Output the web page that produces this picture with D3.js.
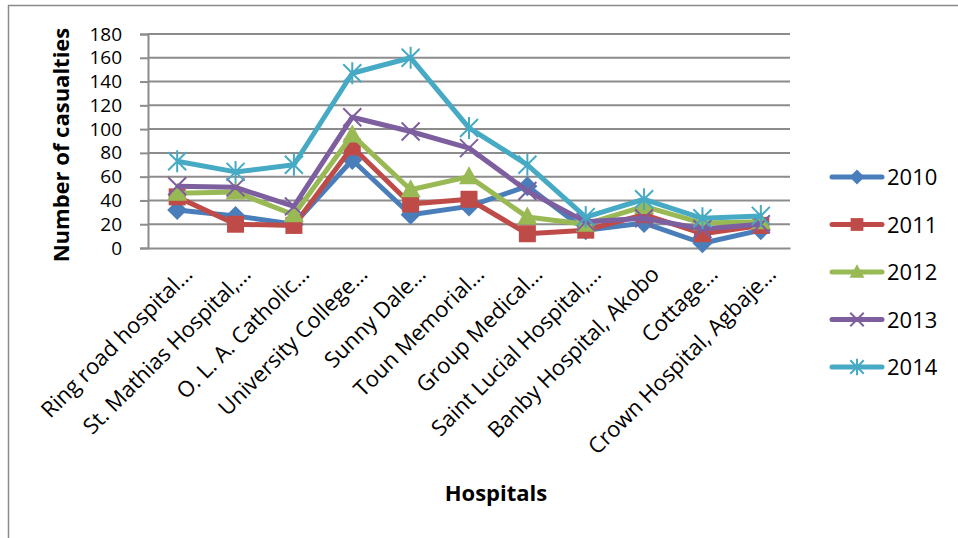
<!DOCTYPE html>
<html>
<head>
<meta charset="utf-8">
<script src="https://cdn.jsdelivr.net/npm/d3@7"></script>
<style>
  body { margin: 0; background: #fff; }
  svg { display: block; font-family: "Open Sans", sans-serif; }
</style>
</head>
<body>
<svg id="chart" width="958" height="538"></svg>
<script>
const hospitals = [
  "Ring road hospital…", "St. Mathias Hospital,…", "O. L. A. Catholic…",
  "University College…", "Sunny Dale…", "Toun Memorial…", "Group Medical…",
  "Saint Lucial Hospital,…", "Banby Hospital, Akobo", "Cottage…",
  "Crown Hospital, Agbaje…"
];
const years = ["2010", "2011", "2012", "2013", "2014"];
const y2010 = [32, 27, 20, 74, 28, 35, 52, 15, 21, 4, 15];
const y2011 = [43, 20, 19, 85, 37, 41, 12, 15, 28, 12, 19];
const y2012 = [46, 47, 28, 95, 49, 60, 26, 20, 35, 21, 22];
const y2013 = [52, 51, 35, 110, 98, 84, 48, 22, 25, 16, 20];
const y2014 = [73, 64, 70, 147, 160, 101, 70, 26, 41, 25, 27];
const yTicks = [0, 20, 40, 60, 80, 100, 120, 140, 160, 180];

const seriesValues = [y2010, y2011, y2012, y2013, y2014];
const colors = ["#4a7ebb", "#be4b48", "#98b954", "#7d5fa0", "#46aac5"];
const markers = ["diamond", "square", "triangle", "cross", "star"];

const svg = d3.select("#chart");
const margin = { top: 34, left: 148, right: 790, bottom: 248 };

// outer frame (left + top only visible)
svg.append("path")
  .attr("d", "M8.5,538 V5.5 H958")
  .attr("fill", "none").attr("stroke", "#8a8a8a").attr("stroke-width", 1.5);

const x = d3.scaleBand().domain(hospitals).range([margin.left, margin.right]);
const y = d3.scaleLinear().domain([0, 180]).range([margin.bottom, margin.top]);

// gridlines
svg.append("g").selectAll("line").data(yTicks.filter(d => d > 0)).join("line")
  .attr("x1", margin.left).attr("x2", margin.right)
  .attr("y1", d => y(d)).attr("y2", d => y(d))
  .attr("stroke", "#8c8c8c").attr("stroke-width", 2);

// y axis
const yAxis = svg.append("g")
  .attr("transform", `translate(${margin.left},0)`)
  .call(d3.axisLeft(y).tickValues(yTicks).tickSize(8).tickPadding(18));
yAxis.select(".domain").attr("stroke", "#8c8c8c").attr("stroke-width", 2);
yAxis.selectAll(".tick line").attr("stroke", "#8c8c8c").attr("stroke-width", 2);
yAxis.selectAll("text").attr("font-size", 19).attr("fill", "#000")
  .attr("font-family", "Open Sans, sans-serif");

// x axis
const xAxis = svg.append("g")
  .attr("transform", `translate(0,${margin.bottom})`)
  .call(d3.axisBottom(x).tickSize(0).tickPadding(0));
xAxis.select(".domain").attr("stroke", "#8c8c8c").attr("stroke-width", 2);
xAxis.selectAll("text")
  .attr("font-size", 22).attr("fill", "#000")
  .attr("font-family", "Open Sans, sans-serif")
  .attr("text-anchor", "end")
  .attr("dy", null).attr("y", 0)
  .attr("transform", "translate(3,14) rotate(-45)")
  .attr("dominant-baseline", "hanging");

// axis titles
svg.append("text")
  .attr("transform", `translate(69,${(margin.top + margin.bottom) / 2 + 4}) rotate(-90)`)
  .attr("text-anchor", "middle")
  .attr("font-size", 22).attr("font-weight", "bold")
  .text("Number of casualties");
svg.append("text")
  .attr("x", 496).attr("y", 501)
  .attr("text-anchor", "middle")
  .attr("font-size", 22).attr("font-weight", "bold")
  .text("Hospitals");

function drawMarker(g, type, color, s) {
  if (type === "diamond") {
    g.append("path").attr("d", `M0,${-s} L${s},0 L0,${s} L${-s},0 Z`).attr("fill", color);
  } else if (type === "square") {
    g.append("rect").attr("x", -s * 0.85).attr("y", -s * 0.85)
      .attr("width", s * 1.7).attr("height", s * 1.7).attr("fill", color);
  } else if (type === "triangle") {
    g.append("path").attr("d", `M0,${-s * 1.05} L${s},${s * 0.75} L${-s},${s * 0.75} Z`).attr("fill", color);
  } else if (type === "cross") {
    const a = s * 0.9;
    g.append("path").attr("d", `M${-a},${-a} L${a},${a} M${-a},${a} L${a},${-a}`)
      .attr("stroke", color).attr("stroke-width", 2);
  } else {
    const a = s * 0.9;
    g.append("path").attr("d", `M${-a},${-a} L${a},${a} M${-a},${a} L${a},${-a} M0,${-s * 1.1} V${s * 1.1}`)
      .attr("stroke", color).attr("stroke-width", 2);
  }
}

const line = d3.line()
  .x((d, i) => x(hospitals[i]) + x.bandwidth() / 2)
  .y(d => y(d));

seriesValues.forEach((vals, k) => {
  const g = svg.append("g");
  g.append("path").datum(vals)
    .attr("d", line)
    .attr("fill", "none")
    .attr("stroke", colors[k])
    .attr("stroke-width", 5)
    .attr("stroke-linejoin", "round");
  vals.forEach((v, i) => {
    const m = g.append("g")
      .attr("transform", `translate(${x(hospitals[i]) + x.bandwidth() / 2},${y(v)})`);
    drawMarker(m, markers[k], colors[k], 10);
  });
});

// legend
const legend = svg.append("g");
years.forEach((yr, k) => {
  const cy = 177 + k * 47.5;
  const lg = legend.append("g");
  lg.append("line")
    .attr("x1", 832).attr("x2", 882).attr("y1", cy).attr("y2", cy)
    .attr("stroke", colors[k]).attr("stroke-width", 5).attr("stroke-linecap", "round");
  drawMarker(lg.append("g").attr("transform", `translate(857,${cy})`), markers[k], colors[k], 7.5);
  lg.append("text")
    .attr("x", 887).attr("y", cy + 8)
    .attr("font-size", 22).attr("fill", "#000")
    .text(yr);
});
</script>
</body>
</html>
